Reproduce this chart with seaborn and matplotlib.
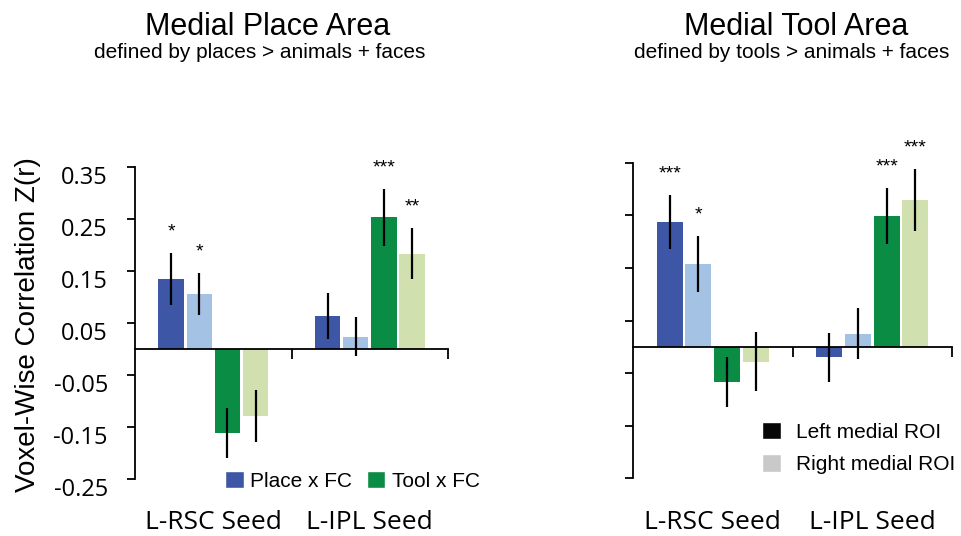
import pandas as pd
import seaborn as sns
import matplotlib.pyplot as plt
from matplotlib.patches import Patch
from matplotlib.transforms import ScaledTranslation

# Data
seeds = ["L-RSC Seed", "L-IPL Seed"]
conditions = ["Place x FC, Left", "Place x FC, Right", "Tool x FC, Left", "Tool x FC, Right"]

# Medial Place Area
mpa_rsc = [0.134, 0.106, -0.162, -0.129]
mpa_ipl = [0.064, 0.024, 0.253, 0.183]
mpa_rsc_err = [0.050, 0.040, 0.048, 0.050]
mpa_ipl_err = [0.044, 0.038, 0.055, 0.049]
mpa_rsc_sig = ["*", "*", "", ""]
mpa_ipl_sig = ["", "", "***", "**"]

# Medial Tool Area
mta_rsc = [0.237, 0.158, -0.067, -0.028]
mta_ipl = [-0.020, 0.025, 0.248, 0.279]
mta_rsc_err = [0.052, 0.053, 0.048, 0.056]
mta_ipl_err = [0.047, 0.048, 0.053, 0.059]
mta_rsc_sig = ["***", "*", "", ""]
mta_ipl_sig = ["", "", "***", "***"]

y_ticks = [-0.25, -0.15, -0.05, 0.05, 0.15, 0.25, 0.35]

palette = {
    "Place x FC, Left":  "#3d56a6",
    "Place x FC, Right": "#a4c2e3",
    "Tool x FC, Left":   "#0a8c45",
    "Tool x FC, Right":  "#d1e0af",
}


def make_df(rsc, ipl, rsc_err, ipl_err, rsc_sig, ipl_sig):
    rows = []
    for seed, vals, errs, sigs in [(seeds[0], rsc, rsc_err, rsc_sig),
                                   (seeds[1], ipl, ipl_err, ipl_sig)]:
        for cond, v, e, s in zip(conditions, vals, errs, sigs):
            rows.append({"Seed": seed, "Condition": cond, "Z": v, "err": e, "sig": s})
    return pd.DataFrame(rows)


sns.set_style("white")
plt.rcParams['font.family'] = ['Liberation Sans', 'DejaVu Sans']
plt.rcParams['text.color'] = 'black'
plt.rcParams['xtick.color'] = 'black'
plt.rcParams['ytick.color'] = 'black'

fig = plt.figure(figsize=(9.61, 5.36), dpi=100)
ax1 = fig.add_axes([0.1405, 0.1063, 0.3257, 0.5821])
ax2 = fig.add_axes([0.6587, 0.1076, 0.3320, 0.5889])

panels = [
    (ax1, make_df(mpa_rsc, mpa_ipl, mpa_rsc_err, mpa_ipl_err, mpa_rsc_sig, mpa_ipl_sig)),
    (ax2, make_df(mta_rsc, mta_ipl, mta_rsc_err, mta_ipl_err, mta_rsc_sig, mta_ipl_sig)),
]

for ax, df in panels:
    sns.barplot(data=df, x="Seed", y="Z", hue="Condition", order=seeds,
                hue_order=conditions, palette=palette, width=0.72, gap=0.1,
                saturation=1, errorbar=None, legend=False, linewidth=0, ax=ax)

    # error bars and stars on top of the seaborn bars
    bar_groups = list(ax.containers)
    for i, cont in enumerate(bar_groups):
        for j, bar in enumerate(cont):
            row = df[(df["Seed"] == seeds[j]) & (df["Condition"] == conditions[i])].iloc[0]
            xc = bar.get_x() + bar.get_width() / 2
            ax.errorbar(xc, row["Z"], yerr=row["err"], fmt='none', ecolor='black',
                        elinewidth=1.6, capsize=0, zorder=5)
            if row["sig"]:
                ax.annotate(row["sig"], (xc, row["Z"] + row["err"]),
                            xytext=(0, 12), textcoords='offset points',
                            ha='center', va='baseline', fontsize=14,
                            annotation_clip=False)

    ax.set_xlim(-0.5, 1.5)
    ax.set_ylim(-0.25, 0.35)
    ax.set_xlabel("")
    ax.set_ylabel("")
    sns.despine(ax=ax)
    ax.spines['bottom'].set_position(('data', 0))
    for s in ['left', 'bottom']:
        ax.spines[s].set_linewidth(1.3)
        ax.spines[s].set_color('black')
    ax.set_xticks([0.5, 1.5])
    ax.set_xticklabels([])
    ax.tick_params(axis='x', bottom=True, direction='out', length=7, width=1.3)
    ax.set_yticks(y_ticks)
    ax.tick_params(axis='y', left=True, direction='out', length=5.5, width=1.3, pad=14)

    for k, seed in enumerate(seeds):
        ax.text(k, -0.14, seed, transform=ax.get_xaxis_transform(), ha='center',
                va='center', fontsize=19, family='Open Sans')

# y tick labels only on the left panel
ax1.set_yticklabels([f"{t:.2f}" for t in y_ticks], fontsize=17, family='Open Sans')
for lab in ax1.get_yticklabels():
    lab.set_transform(lab.get_transform() + ScaledTranslation(0, -0.08, fig.dpi_scale_trans))
ax2.set_yticklabels([])

fig.text(0.029, 0.395, "Voxel-Wise Correlation Z(r)", rotation=90, ha='center',
         va='center', fontsize=20)

# titles
fig.text(268 / 961, 1 - 35 / 536, "Medial Place Area", ha='center', va='baseline', fontsize=22)
fig.text(260 / 961, 1 - 58 / 536, "defined by places > animals + faces",
         ha='center', va='baseline', fontsize=15)
fig.text(796 / 961, 1 - 35 / 536, "Medial Tool Area", ha='center', va='baseline', fontsize=22)
fig.text(792 / 961, 1 - 58 / 536, "defined by tools > animals + faces",
         ha='center', va='baseline', fontsize=15)

# legends
leg1 = [Patch(facecolor=palette["Place x FC, Left"], label="Place x FC"),
        Patch(facecolor=palette["Tool x FC, Left"], label="Tool x FC")]
fig.legend(handles=leg1, loc='center left', bbox_to_anchor=(225 / 961, 1 - 481 / 536),
           ncol=2, frameon=False, fontsize=15, handlelength=0.9, handleheight=0.9,
           handletextpad=0.3, columnspacing=0.7, borderpad=0, borderaxespad=0)

leg2 = [Patch(facecolor="#060606", label="Left medial ROI"),
        Patch(facecolor="#c9c9c9", label="Right medial ROI")]
fig.legend(handles=leg2, loc='center left', bbox_to_anchor=(762 / 961, 1 - 448 / 536),
           ncol=1, frameon=False, fontsize=15, handlelength=0.9, handleheight=0.9,
           handletextpad=0.75, labelspacing=0.6, borderpad=0, borderaxespad=0)

fig.savefig("out.png", dpi=100)
